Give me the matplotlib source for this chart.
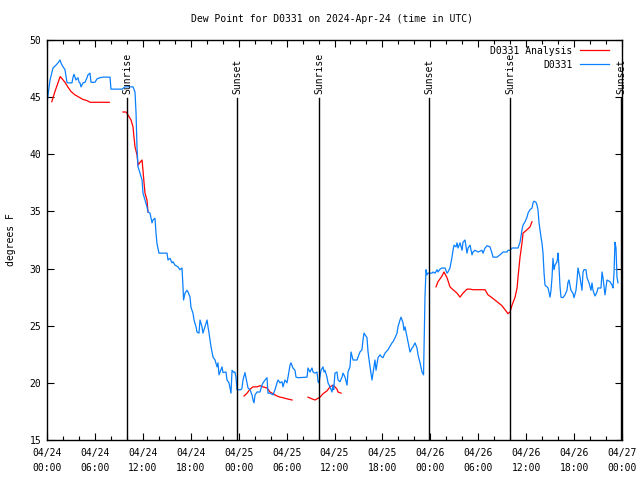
import matplotlib
matplotlib.use("Agg")
import matplotlib.pyplot as plt
import numpy as np

# hours since 2024-04-24 00:00 UTC
obs_hours = [0.00,0.38,0.75,1.13,1.38,1.63,1.75,1.88,2.25,2.50,2.63,2.88,3.13,3.26,3.38,3.63,3.88,4.01,4.13,4.26,
             4.51,4.76,5.01,5.13,5.38,5.51,5.76,6.01,6.26,6.64,7.01,7.64,7.89,8.01,9.39,9.77,10.77,11.02,11.15,11.27,
             11.40,11.65,11.90,12.02,12.27,12.52,12.65,12.90,13.15,13.27,13.52,13.65,13.77,14.02,14.53,15.03,15.15,15.40,15.65,15.78,
             16.03,16.40,16.65,16.90,17.03,17.10,17.28,17.53,17.66,17.91,18.03,18.28,18.41,18.66,18.78,19.03,19.16,19.41,19.53,19.78,
             20.04,20.16,20.29,20.54,20.79,21.04,21.29,21.41,21.54,21.91,22.04,22.41,22.54,22.79,23.04,23.17,23.42,23.54,23.67,23.79,
             24.04,24.29,24.42,24.54,24.79,24.92,25.17,25.42,25.67,25.80,25.92,26.05,26.30,26.67,26.92,27.05,27.30,27.55,27.67,27.92,
             28.30,28.55,28.80,28.93,29.18,29.43,29.55,29.80,30.05,30.18,30.43,30.55,30.80,31.05,31.18,31.43,32.56,32.68,32.93,33.18,
             33.31,33.56,33.81,33.94,34.06,34.31,34.56,34.69,34.81,35.06,35.19,35.44,35.69,35.81,35.90,36.06,36.31,36.44,36.69,36.94,
             37.07,37.32,37.57,37.69,37.94,38.07,38.32,38.82,38.94,39.19,39.44,39.57,39.69,40.07,40.20,40.45,40.70,40.82,41.07,41.20,
             41.45,41.70,41.95,42.07,42.32,42.70,43.20,43.33,43.58,43.83,43.95,44.20,44.33,44.58,44.70,44.83,45.08,45.33,45.46,45.71,
             45.83,46.08,46.33,46.46,46.71,46.96,47.15,47.33,47.46,47.58,47.71,48.21,48.34,48.59,48.84,48.96,49.21,49.46,49.84,50.09,
             50.21,50.46,50.71,50.84,50.97,51.22,51.34,51.47,51.72,51.97,52.09,52.34,52.59,52.72,52.97,53.22,53.34,53.59,53.97,54.47,
             54.60,54.85,55.10,55.47,55.72,55.85,56.35,56.72,56.97,57.10,57.60,57.73,57.98,58.23,58.98,59.23,59.48,59.61,59.86,60.11,
             60.23,60.48,60.73,60.86,60.98,61.23,61.36,61.48,61.61,61.86,61.98,62.11,62.24,62.36,62.61,62.74,62.99,63.11,63.24,63.36,
             63.49,63.61,63.86,63.95,63.99,64.11,64.24,64.36,64.61,64.86,65.11,65.24,65.36,65.61,65.86,65.99,66.24,66.37,66.49,66.74,
             66.99,67.12,67.24,67.49,67.62,67.87,68.12,68.24,68.37,68.62,68.87,68.99,69.37,69.50,69.62,69.87,70.00,70.12,70.50,70.75,
             70.87,71.00,71.12,71.25,71.37,71.50]
obs_dewpt = [44.5,46.5,47.55,47.8,48.0,48.25,48.0,47.8,47.4,46.3,46.25,46.25,46.25,46.75,47.0,46.5,46.7,46.3,46.25,45.9,
             46.25,46.3,46.7,46.95,47.1,46.3,46.3,46.3,46.6,46.7,46.75,46.75,46.75,45.7,45.7,45.9,45.9,45.45,43.6,40.6,
             38.9,38.35,37.75,36.6,36.0,35.4,34.95,34.85,34.0,34.25,34.4,33.1,32.2,31.35,31.35,31.35,30.75,30.9,30.5,30.6,
             30.3,30.15,29.9,30.05,28.4,27.25,27.85,28.1,27.95,27.5,26.6,26.1,25.5,24.9,24.45,24.35,25.5,24.9,24.35,24.9,
             25.5,24.9,24.35,23.15,22.25,22.0,21.4,21.75,20.7,21.4,20.9,20.95,20.25,20.0,19.1,21.1,20.9,20.95,20.45,19.4,
             19.4,19.4,19.55,20.25,20.9,20.45,19.55,19.4,18.95,18.5,18.25,18.95,19.2,19.2,19.8,20.0,20.25,20.45,19.1,19.1,
             18.95,19.4,20.0,20.25,20.0,20.1,19.65,20.25,20.0,20.5,21.55,21.75,21.3,21.1,20.5,20.45,20.5,21.3,20.95,21.3,
             20.95,20.85,20.95,20.1,20.0,21.1,21.4,20.95,21.1,20.5,20.0,19.65,19.2,19.8,19.4,20.85,20.95,20.25,20.1,20.5,
             20.85,20.5,19.8,20.95,21.4,22.7,22.0,22.0,22.25,22.7,22.9,23.75,24.35,23.95,22.7,21.4,20.25,20.85,22.0,21.1,
             22.2,22.45,22.25,22.2,22.6,22.9,23.5,23.6,23.95,24.35,24.9,25.5,25.75,25.25,24.6,24.9,24.0,23.15,22.7,23.05,
             23.15,23.5,23.05,22.45,21.75,20.95,20.7,27.5,29.9,29.45,29.6,29.6,29.7,29.6,29.9,29.7,29.95,30.05,30.05,29.6,
             29.7,30.05,31.0,31.6,32.05,31.9,32.25,31.8,32.25,31.6,32.3,32.5,31.35,31.8,32.05,31.2,31.45,31.6,31.45,31.6,
             31.35,31.8,32.0,31.9,31.35,31.0,31.0,31.2,31.35,31.45,31.45,31.6,31.6,31.8,31.8,32.3,33.4,33.8,34.1,34.5,
             34.85,35.15,35.3,35.75,35.9,35.8,35.55,35.15,34.0,32.75,32.25,31.35,29.6,28.55,28.4,28.3,27.5,28.1,29.25,30.9,
             29.9,30.3,30.6,31.0,31.35,30.15,28.4,27.5,27.45,27.7,28.1,28.8,29.0,28.1,27.85,27.45,28.1,29.0,30.05,29.25,
             28.1,29.7,29.9,29.9,29.2,28.75,28.1,28.75,28.1,27.6,27.95,28.3,28.3,29.7,29.2,27.7,28.4,29.0,28.85,28.55,
             28.3,29.6,32.3,31.8,29.25,28.75]

# analysis series (NaN separates gaps)
ana_hours = [0.6,1.0,1.4,1.65,1.9,2.25,2.6,3.0,3.5,4.0,4.5,5.0,5.4,7.8, np.nan,
             9.52,9.89,10.14,10.52,10.77,10.89,11.02,11.27,11.40,11.65,11.90,12.02,12.15,12.27,12.52,12.65, np.nan,
             24.67,25.05,25.42,25.80,26.30,26.67,27.05,27.55,27.92,28.30,28.80,29.18,29.55,30.05,30.68, np.nan,
             32.68,33.18,33.56,33.81,34.19,34.56,35.06,35.44,35.81,36.06,36.31,36.44,36.82, np.nan,
             48.71,48.96,49.46,49.71,50.09,50.46,50.84,51.34,51.72,52.09,52.59,52.97,53.34,54.85,55.22,55.72,56.35,56.97,
             57.35,57.73,57.98,58.23,58.61,58.86,58.98,59.23,59.48,59.61,60.11,60.48,60.73]
ana_dewpt = [44.6,45.5,46.3,46.8,46.6,46.3,45.9,45.5,45.2,45.0,44.8,44.7,44.55,44.55, np.nan,
             43.7,43.7,43.45,43.0,42.4,41.5,40.65,39.95,39.05,39.3,39.5,38.6,37.5,36.6,36.0,34.95, np.nan,
             18.85,19.1,19.45,19.65,19.65,19.75,19.65,19.55,19.2,19.05,18.85,18.75,18.7,18.6,18.5, np.nan,
             18.75,18.6,18.5,18.6,18.75,19.05,19.3,19.65,19.8,19.65,19.45,19.2,19.1, np.nan,
             28.4,28.85,29.35,29.7,29.2,28.4,28.15,27.85,27.5,27.85,28.2,28.2,28.15,28.15,27.7,27.45,27.1,26.75,
             26.4,26.05,26.2,26.8,27.5,28.3,29.25,31.0,32.25,33.1,33.4,33.65,34.1]

sun_hours = [10.02, 23.79, 34.06, 47.83, 57.98, 71.88]
sun_labels = ["Sunrise", "Sunset", "Sunrise", "Sunset", "Sunrise", "Sunset"]

xtick_hours = [0, 6, 12, 18, 24, 30, 36, 42, 48, 54, 60, 66, 72]
xtick_labels = ["04/24\n00:00", "04/24\n06:00", "04/24\n12:00", "04/24\n18:00",
                "04/25\n00:00", "04/25\n06:00", "04/25\n12:00", "04/25\n18:00",
                "04/26\n00:00", "04/26\n06:00", "04/26\n12:00", "04/26\n18:00",
                "04/27\n00:00"]
ytick_vals = [15, 20, 25, 30, 35, 40, 45, 50]

plt.rcParams['font.family'] = ['DejaVu Sans Mono']
FS = 7

fig = plt.figure(figsize=(6.4, 4.8), dpi=100)
ax = fig.add_axes([47/640, 40/480, 575/640, 400/480])

ax.plot(ana_hours, ana_dewpt, color='#ff0000', lw=0.9, label='D0331 Analysis')
ax.plot(obs_hours, obs_dewpt, color='#0a80ff', lw=0.9, label='D0331')

for h, lab in zip(sun_hours, sun_labels):
    ax.plot([h, h], [15, 44.9], color='black', lw=1.0)
    ax.text(h, 45.3, lab, rotation=90, ha='center', va='bottom', fontsize=FS)

ax.set_xlim(0, 72)
ax.set_ylim(15, 50)
ax.set_xticks(xtick_hours)
ax.set_xticklabels(xtick_labels, fontsize=FS, linespacing=1.6)
ax.set_xticks(np.arange(0, 73, 2), minor=True)
ax.set_yticks(ytick_vals)
ax.set_yticklabels([str(v) for v in ytick_vals], fontsize=FS)
ax.tick_params(which='both', direction='in', top=True, right=True, width=0.8)
ax.tick_params(axis='x', pad=6)
ax.tick_params(axis='y', pad=4)
ax.tick_params(which='major', length=5)
ax.tick_params(which='minor', length=3)
for s in ax.spines.values():
    s.set_linewidth(1.0)

ax.set_ylabel('degrees F', fontsize=FS, labelpad=10)
fig.text(332/640, 1 - 19/480, 'Dew Point for D0331 on 2024-Apr-24 (time in UTC)',
         ha='center', va='center', fontsize=FS)

leg = ax.legend(loc='upper right', bbox_to_anchor=(0.988, 1.0), frameon=False, markerfirst=False,
                fontsize=FS, handlelength=3.0, handletextpad=0.8, labelspacing=0.4, borderaxespad=0.2)
for t in leg.get_texts():
    t.set_ha('right')

fig.savefig('out.png', dpi=100)
